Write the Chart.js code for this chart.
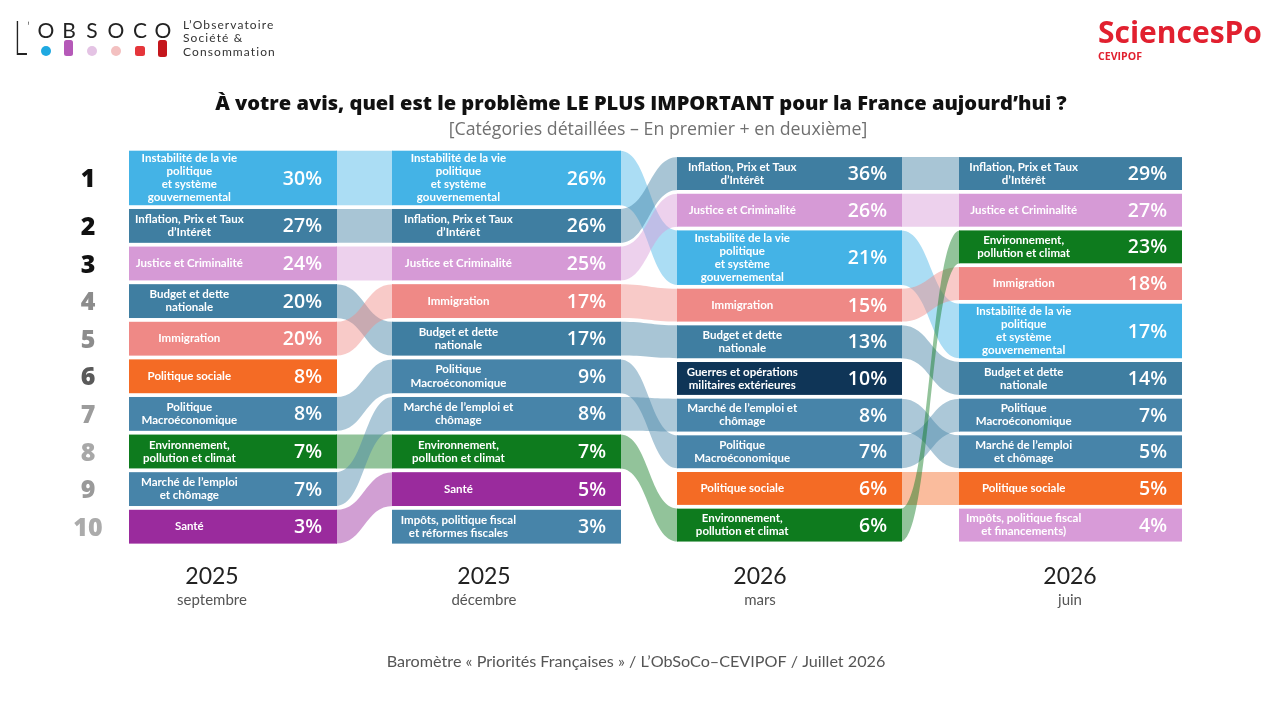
<!DOCTYPE html>
<html><head><meta charset="utf-8">
<script src="https://cdn.jsdelivr.net/npm/chart.js@4.4.1/dist/chart.umd.min.js"></script>
<style>html,body{margin:0;padding:0;background:#fff;}#c{display:block;}</style>
</head><body>
<canvas id="c" width="1280" height="703"></canvas>
<script>
// ---------------- DATA ----------------
const periodYears = ['2025', '2025', '2026', '2026'];
const periodMonths = ['septembre', 'décembre', 'mars', 'juin'];
const rankLabels = ['1', '2', '3', '4', '5', '6', '7', '8', '9', '10'];

const labelsSep2025 = [
  'Instabilité de la vie\npolitique\net système\ngouvernemental',
  'Inflation, Prix et Taux\nd’Intérêt',
  'Justice et Criminalité',
  'Budget et dette\nnationale',
  'Immigration',
  'Politique sociale',
  'Politique\nMacroéconomique',
  'Environnement,\npollution et climat',
  'Marché de l’emploi\net chômage',
  'Santé'
];
const valuesSep2025 = [30, 27, 24, 20, 20, 8, 8, 7, 7, 3];

const labelsDec2025 = [
  'Instabilité de la vie\npolitique\net système\ngouvernemental',
  'Inflation, Prix et Taux\nd’Intérêt',
  'Justice et Criminalité',
  'Immigration',
  'Budget et dette\nnationale',
  'Politique\nMacroéconomique',
  'Marché de l’emploi et\nchômage',
  'Environnement,\npollution et climat',
  'Santé',
  'Impôts, politique fiscal\net réformes fiscales'
];
const valuesDec2025 = [26, 26, 25, 17, 17, 9, 8, 7, 5, 3];

const labelsMar2026 = [
  'Inflation, Prix et Taux\nd’Intérêt',
  'Justice et Criminalité',
  'Instabilité de la vie\npolitique\net système\ngouvernemental',
  'Immigration',
  'Budget et dette\nnationale',
  'Guerres et opérations\nmilitaires extérieures',
  'Marché de l’emploi et\nchômage',
  'Politique\nMacroéconomique',
  'Politique sociale',
  'Environnement,\npollution et climat'
];
const valuesMar2026 = [36, 26, 21, 15, 13, 10, 8, 7, 6, 6];

const labelsJun2026 = [
  'Inflation, Prix et Taux\nd’Intérêt',
  'Justice et Criminalité',
  'Environnement,\npollution et climat',
  'Immigration',
  'Instabilité de la vie\npolitique\net système\ngouvernemental',
  'Budget et dette\nnationale',
  'Politique\nMacroéconomique',
  'Marché de l’emploi\net chômage',
  'Politique sociale',
  'Impôts, politique fiscal\net financements)'
];
const valuesJun2026 = [29, 27, 23, 18, 17, 14, 7, 5, 5, 4];

// ---------------- STYLE / LAYOUT ----------------
const STEEL = '#3f7ea1';
const STEEL2 = '#4784a9';
const categoryColors = {
  'Instabilité de la vie politique et système gouvernemental': '#44b3e6',
  'Inflation, Prix et Taux d’Intérêt': STEEL,
  'Justice et Criminalité': '#d69ad6',
  'Budget et dette nationale': STEEL,
  'Immigration': '#ef8986',
  'Politique sociale': '#f46b25',
  'Politique Macroéconomique': STEEL2,
  'Environnement, pollution et climat': '#0e7b1e',
  'Marché de l’emploi et chômage': STEEL2,
  'Santé': '#9a2b9d',
  'Impôts, politique fiscal et réformes fiscales': STEEL2,
  'Guerres et opérations militaires extérieures': '#0f3557',
  'Impôts, politique fiscal et financements)': '#d89bd8'
};
const rankColors = ['#111', '#111', '#111', '#8c8c8c', '#8c8c8c', '#5a5a5a', '#9c9c9c', '#a8a8a8', '#9a9a9a', '#ababab'];

const columns = [
  { labels: labelsSep2025, values: valuesSep2025 },
  { labels: labelsDec2025, values: valuesDec2025 },
  { labels: labelsMar2026, values: valuesMar2026 },
  { labels: labelsJun2026, values: valuesJun2026 }
];

const W = 1280, H = 703;
const U = 37.6;                       // pixels per row unit
const Y_MIN = -150.7 / U;
const Y_MAX = Y_MIN + H / U;
const colX = [[129, 337], [392, 621], [677, 902], [959, 1182]];
const colTop = [0, 0, 0.17, 0.17];
const normUnits = [1, 1, 0.975, 0.975];
const tallUnits = [1.55, 1.55, 1.55, 1.55];
const GAP = 0.1;
const yearX = [212, 484, 760, 1070];

const norm = s => s.replace(/\n/g, ' ');

function layoutColumn(ci) {
  let y = colTop[ci];
  const col = columns[ci];
  return col.labels.map((lab, i) => {
    const lines = lab.split('\n');
    const h = lines.length >= 4 ? tallUnits[ci] : normUnits[ci];
    const b = { key: norm(lab), lines, value: col.values[i], rank: i, y0: y, y1: y + h - GAP };
    y += h;
    return b;
  });
}

function hexA(hex, a) {
  const n = parseInt(hex.slice(1), 16);
  return `rgba(${(n >> 16) & 255},${(n >> 8) & 255},${n & 255},${a})`;
}

function fitText(ctx, text, weight, family, targetW) {
  ctx.font = `${weight} 100px ${family}`;
  const w = ctx.measureText(text).width;
  return 100 * targetW / w;
}

const drawPlugin = {
  id: 'rankFlow',
  afterDraw(chart) {
    const ctx = chart.ctx;
    const xs = chart.scales.x, ys = chart.scales.y;
    const px = v => xs.getPixelForValue(v);
    const py = v => ys.getPixelForValue(v);
    const cols = columns.map((c, i) => layoutColumn(i));

    ctx.save();
    // ---- ribbons ----
    for (let ci = 0; ci < cols.length - 1; ci++) {
      const xL = px(colX[ci][1]), xR = px(colX[ci + 1][0]);
      const xm = (xL + xR) / 2;
      cols[ci].forEach(a => {
        const b = cols[ci + 1].find(bb => bb.key === a.key);
        if (!b) return;
        const a0 = py(a.y0), a1 = py(a.y1), b0 = py(b.y0), b1 = py(b.y1);
        ctx.beginPath();
        ctx.moveTo(xL - 1, a0);
        ctx.bezierCurveTo(xm, a0, xm, b0, xR + 1, b0);
        ctx.lineTo(xR + 1, b1);
        ctx.bezierCurveTo(xm, b1, xm, a1, xL - 1, a1);
        ctx.closePath();
        ctx.fillStyle = hexA(categoryColors[a.key], 0.45);
        ctx.fill();
      });
    }
    // ---- boxes ----
    cols.forEach((col, ci) => {
      const x0 = px(colX[ci][0]), x1 = px(colX[ci][1]);
      const w = x1 - x0;
      col.forEach(b => {
        const y0 = py(b.y0), y1 = py(b.y1);
        ctx.fillStyle = categoryColors[b.key];
        ctx.fillRect(x0, y0, w, y1 - y0);
        const cy = (y0 + y1) / 2;
        // label
        ctx.fillStyle = '#ffffff';
        ctx.font = '700 11.5px Lato, sans-serif';
        ctx.textAlign = 'center';
        ctx.textBaseline = 'middle';
        const lh = 13.2;
        const lx = x0 + 0.29 * w;
        b.lines.forEach((ln, li) => {
          ctx.fillText(ln, lx, cy + (li - (b.lines.length - 1) / 2) * lh);
        });
        // value
        ctx.font = '600 19.5px "Open Sans", sans-serif';
        ctx.textAlign = 'right';
        ctx.fillText(b.value + '%', x1 - 15, cy + 1);
      });
    });
    // ---- rank numbers ----
    ctx.textAlign = 'center';
    ctx.textBaseline = 'middle';
    ctx.font = '800 25px "Open Sans", sans-serif';
    cols[0].forEach((b, i) => {
      ctx.fillStyle = rankColors[i];
      ctx.fillText(rankLabels[i], 88, (py(b.y0) + py(b.y1)) / 2 + 2);
    });
    // ---- period labels ----
    periodYears.forEach((yr, i) => {
      ctx.fillStyle = '#222';
      ctx.font = '400 23px Lato, sans-serif';
      ctx.fillText(yr, yearX[i], 577);
      ctx.fillStyle = '#555';
      ctx.font = '400 15px Lato, sans-serif';
      ctx.fillText(periodMonths[i], yearX[i], 600);
    });
    // ---- title ----
    const title = 'À votre avis, quel est le problème LE PLUS IMPORTANT pour la France aujourd’hui ?';
    let fs = fitText(ctx, title, 800, '"Open Sans"', 852);
    ctx.font = `800 ${fs}px "Open Sans", sans-serif`;
    ctx.fillStyle = '#111';
    ctx.fillText(title, 641, 104);
    const sub = '[Catégories détaillées – En premier + en deuxième]';
    fs = fitText(ctx, sub, 400, '"Open Sans"', 419);
    ctx.font = `400 ${fs}px "Open Sans", sans-serif`;
    ctx.fillStyle = '#707070';
    ctx.fillText(sub, 658, 130);
    // ---- footer ----
    const foot = 'Baromètre « Priorités Françaises » / L’ObSoCo–CEVIPOF / Juillet 2026';
    fs = fitText(ctx, foot, 400, 'Lato', 499);
    ctx.font = `400 ${fs}px Lato, sans-serif`;
    ctx.fillStyle = '#555';
    ctx.fillText(foot, 636, 662);

    // ---- Sciences Po logo ----
    ctx.textAlign = 'left';
    ctx.fillStyle = '#e1202f';
    fs = fitText(ctx, 'SciencesPo', 700, '"Open Sans"', 164);
    ctx.font = `700 ${fs}px "Open Sans", sans-serif`;
    ctx.fillText('SciencesPo', 1098, 34);
    fs = fitText(ctx, 'CEVIPOF', 700, '"Open Sans"', 44);
    ctx.font = `700 ${fs}px "Open Sans", sans-serif`;
    ctx.fillText('CEVIPOF', 1098, 57);

    // ---- ObSoCo logo ----
    ctx.fillStyle = '#222';
    ctx.save();
    ctx.translate(14, 55);
    ctx.scale(0.55, 1);
    ctx.font = '300 48px Lato, sans-serif';
    ctx.textBaseline = 'alphabetic';
    ctx.fillText('L', 0, 0);
    ctx.restore();
    ctx.textBaseline = 'alphabetic';
    ctx.font = '300 14px Lato, sans-serif';
    ctx.fillText('’', 27, 32);
    ctx.textAlign = 'center';
    ctx.font = '400 21px Lato, sans-serif';
    const letters = ['O', 'B', 'S', 'O', 'C', 'O'];
    const lxs = [46, 69, 92, 116, 140, 163];
    letters.forEach((l, i) => ctx.fillText(l, lxs[i], 38));
    // dots
    const dot = (x, y, r, c) => { ctx.fillStyle = c; ctx.beginPath(); ctx.arc(x, y, r, 0, Math.PI * 2); ctx.fill(); };
    const rr = (x, y, w, h, r, c) => { ctx.fillStyle = c; ctx.beginPath(); ctx.roundRect(x, y, w, h, r); ctx.fill(); };
    dot(46, 51, 5, '#1fa9e1');
    rr(64, 40, 9, 16, 2.5, '#b559b8');
    dot(92, 51, 5, '#e4c3e4');
    dot(116, 51, 5, '#f3c0c0');
    rr(135, 46, 10, 10, 2.5, '#e5363b');
    rr(158, 40, 9, 17, 2.5, '#c4161c');
    ctx.textAlign = 'left';
    ctx.fillStyle = '#333';
    ctx.textBaseline = 'middle';
    ['L’Observatoire', 'Société &', 'Consommation'].forEach((t, i) => {
      ctx.font = '400 12px Lato, sans-serif';
      try { ctx.letterSpacing = '1.1px'; } catch (e) {}
      ctx.fillText(t, 183, 25 + i * 13.5);
    });
    try { ctx.letterSpacing = '0px'; } catch (e) {}
    ctx.restore();
  }
};

Chart.defaults.font.family = '"Open Sans", sans-serif';

new Chart(document.getElementById('c'), {
  type: 'scatter',
  data: {
    datasets: columns.map((c, ci) => ({
      label: periodMonths[ci],
      data: layoutColumn(ci).map(b => ({ x: (colX[ci][0] + colX[ci][1]) / 2, y: (b.y0 + b.y1) / 2 })),
      pointRadius: 0,
      pointHoverRadius: 0
    }))
  },
  options: {
    responsive: false,
    animation: false,
    devicePixelRatio: 1,
    layout: { padding: 0 },
    plugins: { legend: { display: false }, tooltip: { enabled: false }, title: { display: false } },
    scales: {
      x: { type: 'linear', min: 0, max: W, display: false },
      y: { type: 'linear', min: Y_MIN, max: Y_MAX, reverse: true, display: false }
    }
  },
  plugins: [drawPlugin]
});
</script>
</body></html>
